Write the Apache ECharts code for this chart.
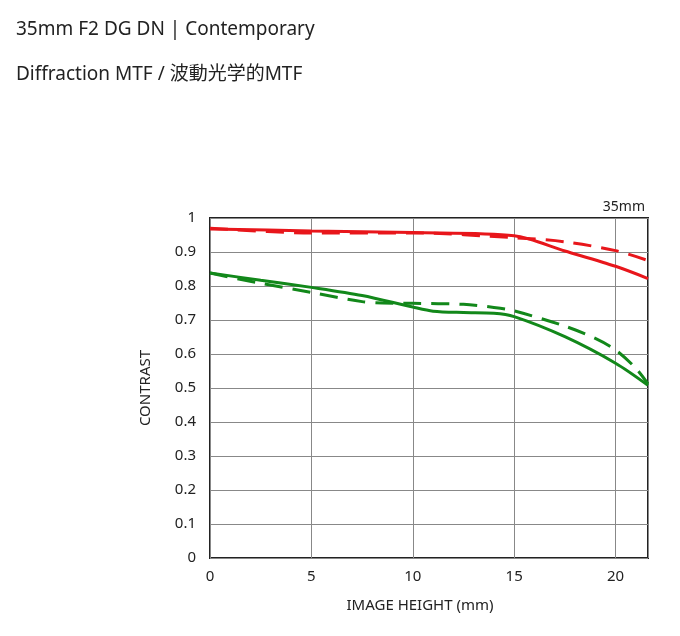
<!DOCTYPE html>
<html>
<head>
<meta charset="utf-8">
<script src="https://cdn.jsdelivr.net/npm/echarts@6/dist/echarts.min.js"></script>
<style>
  html, body { margin: 0; padding: 0; background: #fff; }
  #chart { width: 680px; height: 636px; }
</style>
</head>
<body>
<div id="chart"></div>
<script>
// 像高 (mm) と コントラスト
var redSolidX = [0, 5, 10, 15, 17.5, 20, 21.6]
var redSolidY = [0.968, 0.962, 0.957, 0.948, 0.903, 0.858, 0.822]
var redDashX = [0, 5, 10, 15, 17.5, 20, 21.6]
var redDashY = [0.97, 0.956, 0.956, 0.942, 0.93, 0.904, 0.875]
var greenSolidX = [0, 2.5, 5, 7.5, 10, 11, 12.5, 14, 15, 17.5, 20, 21.6]
var greenSolidY = [0.838, 0.817, 0.796, 0.772, 0.738, 0.726, 0.722, 0.72, 0.71, 0.651, 0.573, 0.508]
var greenDashX = [0, 2.5, 5, 7.5, 8.5, 10, 12.5, 14, 15, 17.5, 19, 20, 21, 21.6]
var greenDashY = [0.838, 0.808, 0.781, 0.754, 0.75, 0.749, 0.746, 0.737, 0.727, 0.682, 0.646, 0.612, 0.558, 0.512]

var RED = '#e8161b'
var GREEN = '#12881a'
var FONT = '"Noto Sans", "Noto Sans CJK JP", sans-serif'

function pairs(xs, ys) {
  return xs.map(function (x, i) { return [x, ys[i]] })
}

function line(xs, ys, color, dashed) {
  return {
    type: 'line',
    data: pairs(xs, ys),
    smooth: 0.3,
    symbol: 'none',
    lineStyle: {
      color: color,
      width: 3,
      type: dashed ? [18, 10] : 'solid'
    },
    animation: false
  }
}

var chart = echarts.init(document.getElementById('chart'))
chart.setOption({
  title: [
    {
      text: '35mm F2 DG DN | Contemporary',
      left: 11,
      top: 15,
      textStyle: { fontFamily: FONT, fontSize: 19, fontWeight: 'normal', color: '#222' }
    },
    {
      text: 'Diffraction MTF / 波動光学的MTF',
      left: 11,
      top: 60,
      textStyle: { fontFamily: FONT, fontSize: 19, fontWeight: 'normal', color: '#222' }
    },
    {
      text: '35mm',
      right: 30,
      top: 195,
      textStyle: { fontFamily: FONT, fontSize: 14, fontWeight: 'normal', color: '#222' }
    }
  ],
  grid: {
    left: 210,
    top: 218,
    right: 32,
    bottom: 78,
    show: true,
    borderColor: '#222',
    borderWidth: 2
  },
  xAxis: {
    type: 'value',
    min: 0,
    max: 21.6,
    interval: 5,
    name: 'IMAGE HEIGHT (mm)',
    nameLocation: 'middle',
    nameGap: 40,
    nameTextStyle: { fontFamily: FONT, fontSize: 15, color: '#222', padding: [0, 18, 0, 0] },
    axisLine: { show: false },
    axisTick: { show: false },
    axisLabel: { fontFamily: FONT, fontSize: 15, color: '#222', margin: 11, showMaxLabel: false },
    splitLine: { show: true, lineStyle: { color: '#888', width: 1 } }
  },
  yAxis: {
    type: 'value',
    min: 0,
    max: 1,
    interval: 0.1,
    name: 'CONTRAST',
    nameLocation: 'middle',
    nameGap: 57,
    nameTextStyle: { fontFamily: FONT, fontSize: 15, color: '#222' },
    axisLine: { show: false },
    axisTick: { show: false },
    axisLabel: { fontFamily: FONT, fontSize: 15, color: '#222', margin: 14 },
    splitLine: { show: true, lineStyle: { color: '#888', width: 1 } }
  },
  series: [
    line(redSolidX, redSolidY, RED, false),
    line(redDashX, redDashY, RED, true),
    line(greenSolidX, greenSolidY, GREEN, false),
    line(greenDashX, greenDashY, GREEN, true)
  ]
})
</script>
</body>
</html>
